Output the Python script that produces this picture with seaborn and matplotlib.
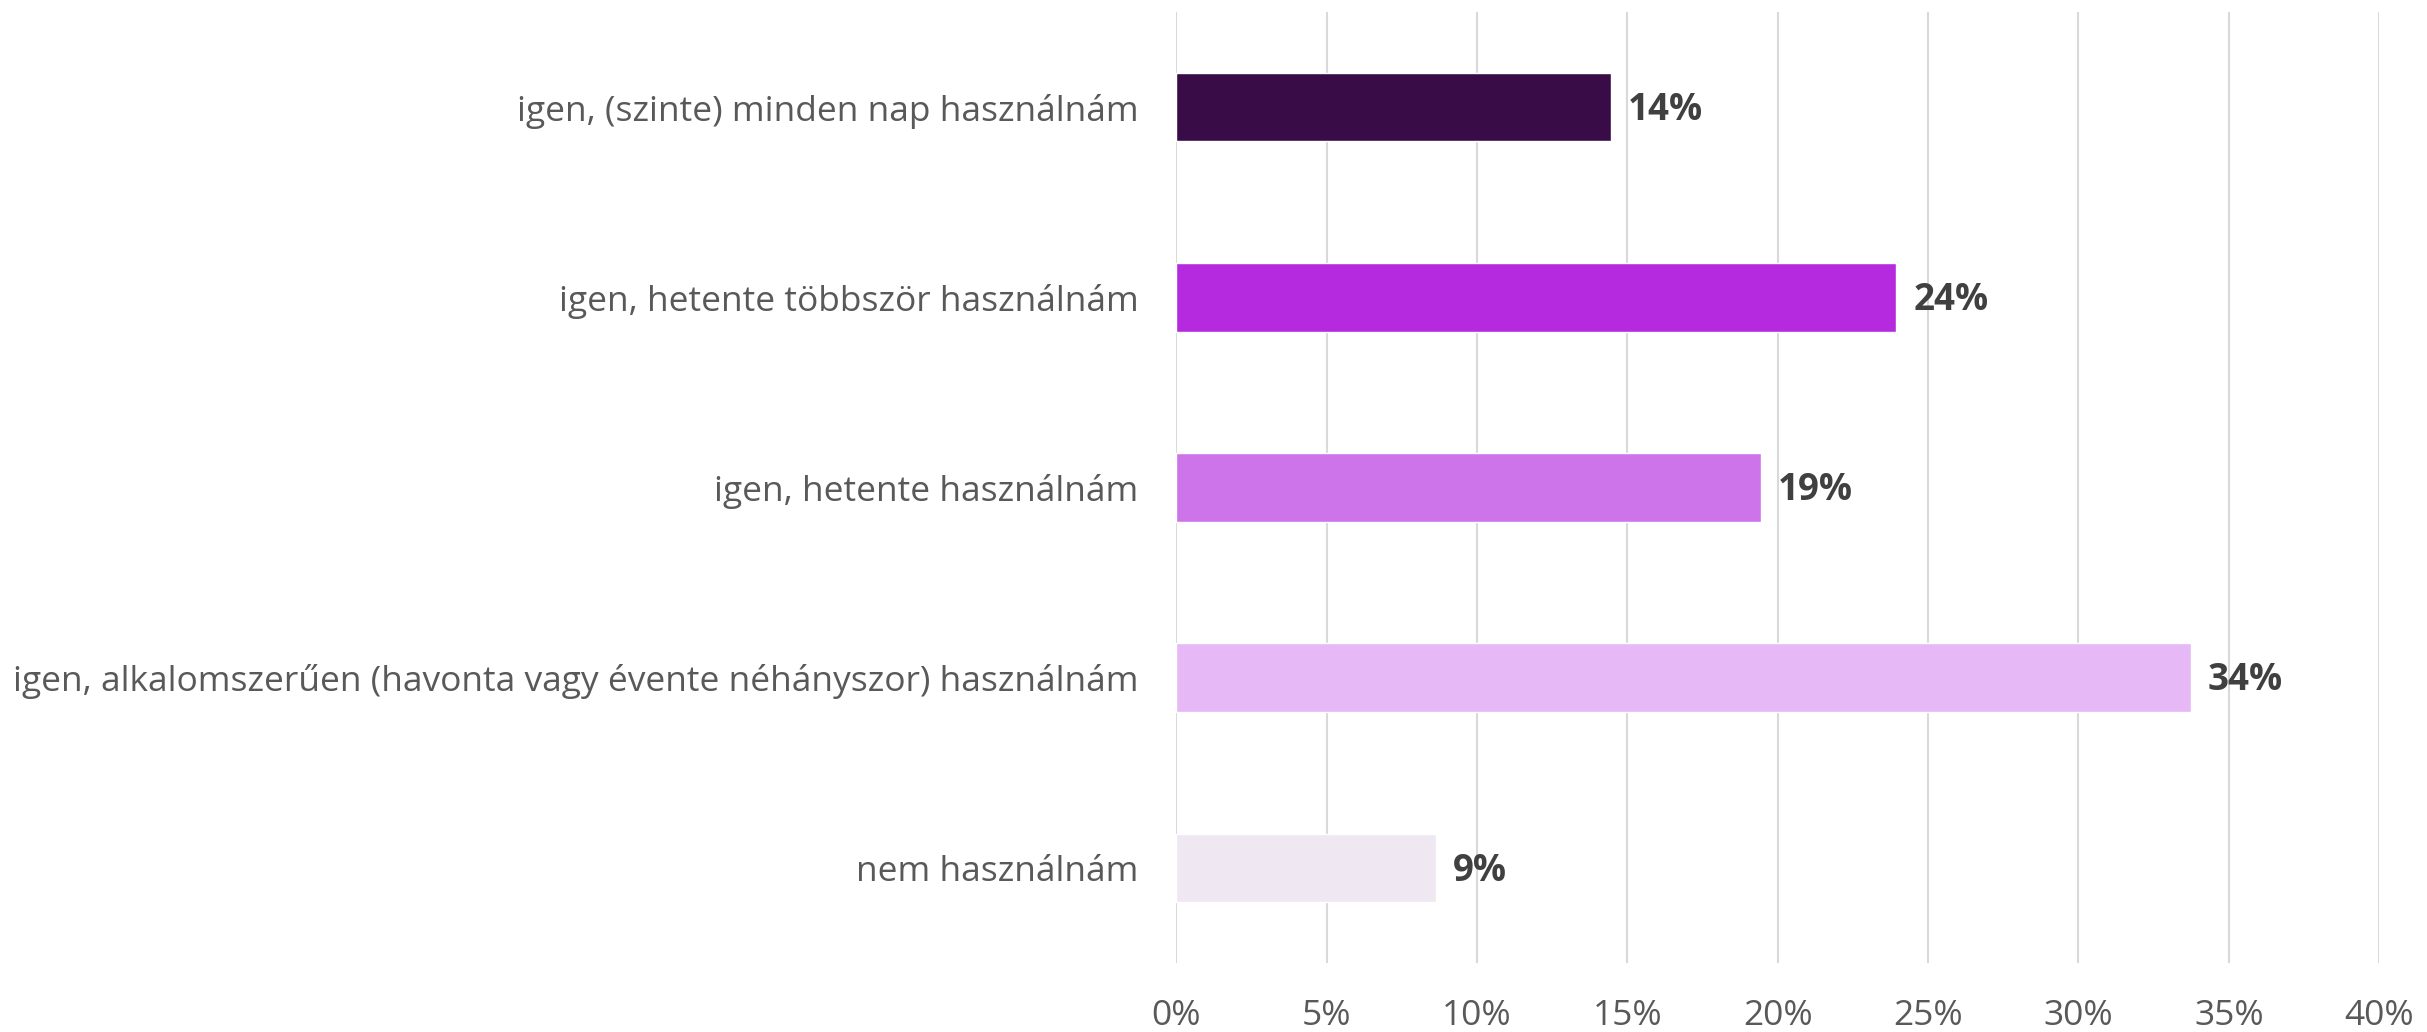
import pandas as pd
import matplotlib.pyplot as plt
import seaborn as sns

# Survey answers and shares (percent)
categories = [
    "igen, (szinte) minden nap használnám",
    "igen, hetente többször használnám",
    "igen, hetente használnám",
    "igen, alkalomszerűen (havonta vagy évente néhányszor) használnám",
    "nem használnám",
]
values = [14.45, 23.95, 19.45, 33.75, 8.65]
labels = ["14%", "24%", "19%", "34%", "9%"]
colors = ["#3A0C47", "#B52ADF", "#CD74EA", "#E6B9F6", "#EFE7F1"]
xticks = [0, 5, 10, 15, 20, 25, 30, 35, 40]

df = pd.DataFrame({"category": categories, "value": values})

sns.set_style("white")
plt.rcParams["font.family"] = ["Open Sans", "DejaVu Sans"]

fig = plt.figure(figsize=(24.27, 10.32), dpi=100)
ax = fig.add_axes([0.4846, 0.0669, 0.4957, 0.9215])

sns.barplot(data=df, x="value", y="category", hue="category", palette=colors,
            width=0.36, legend=False, ax=ax, saturation=1)

ax.set_xlim(0, 40)
ax.set_ylim(4.5, -0.5)
ax.set_xticks(xticks)
ax.set_xticklabels([f"{t}%" for t in xticks], fontsize=25.5, color="#595959")
ax.tick_params(axis="y", labelsize=25.5, labelcolor="#595959", length=0, pad=27)
ax.tick_params(axis="x", length=0, pad=26)
ax.set_xlabel("")
ax.set_ylabel("")

ax.xaxis.grid(True, color="#D9D9D9", linewidth=1.5)
ax.set_axisbelow(True)
for s in ax.spines.values():
    s.set_visible(False)

for bar, lab in zip(ax.patches, labels):
    ax.annotate(lab, (bar.get_width(), bar.get_y() + bar.get_height() / 2),
                xytext=(12, -2), textcoords="offset points", va="center", ha="left",
                fontsize=26.5, fontweight="bold", color="#404040")

fig.savefig("out.png", dpi=100)
